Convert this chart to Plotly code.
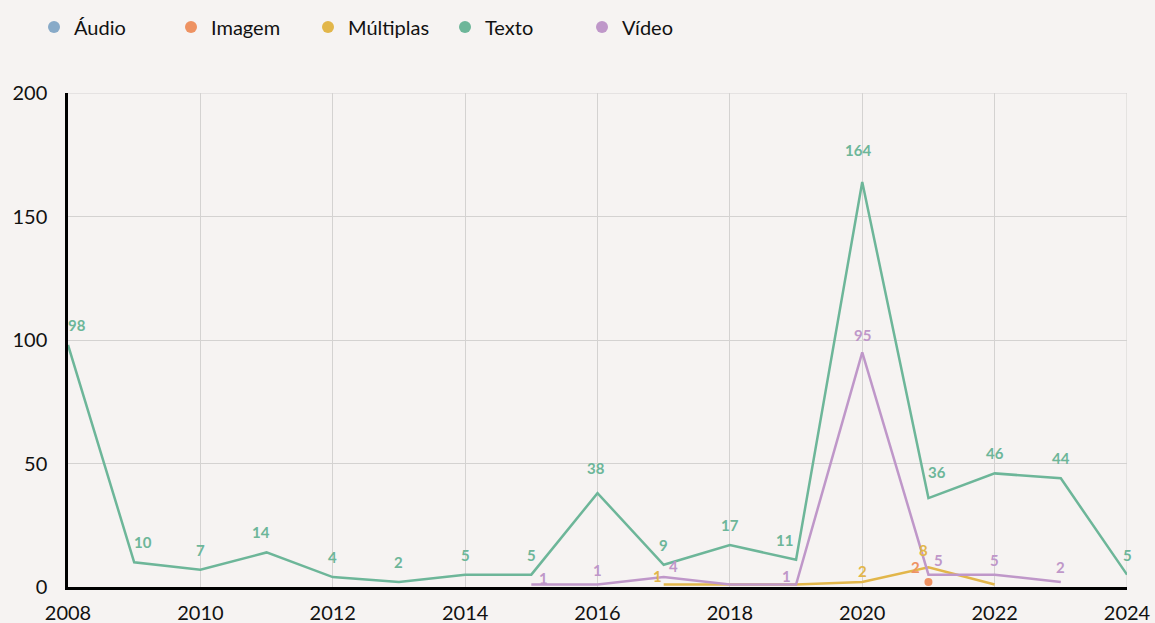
import plotly.graph_objects as go

years = list(range(2008, 2025))

audio = [None] * 17
imagem = [None, None, None, None, None, None, None, None, None, None, None, None, None, 2, None, None, None]
multiplas = [None, None, None, None, None, None, None, None, None, 1, 1, 1, 2, 8, 1, None, None]
texto = [98, 10, 7, 14, 4, 2, 5, 5, 38, 9, 17, 11, 164, 36, 46, 44, 5]
video = [None, None, None, None, None, None, None, 1, 1, 4, 1, 1, 95, 5, 5, 2, None]

# labels that the original hides because they collide
hidden = {("Múltiplas", 2018), ("Múltiplas", 2019), ("Múltiplas", 2022), ("Vídeo", 2018)}

# small nudges (px) for labels that would sit on each other
nudge = {
    ("Texto", 2008): (9, 0), ("Texto", 2009): (9, 0), ("Texto", 2011): (-6, 0),
    ("Texto", 2019): (-12, 0), ("Texto", 2020): (-4, 12), ("Texto", 2021): (9, 6),
    ("Texto", 2016): (-2, 5),
    ("Vídeo", 2015): (12, -8), ("Vídeo", 2017): (10, -4), ("Vídeo", 2019): (-10, -6),
    ("Vídeo", 2020): (0, 2), ("Vídeo", 2021): (10, 0),
    ("Múltiplas", 2017): (-6, -6), ("Múltiplas", 2020): (0, -4), ("Múltiplas", 2021): (-5, 2),
    ("Imagem", 2021): (-13, 0),
}

series = [
    ("Áudio", audio, "#88aac8"),
    ("Imagem", imagem, "#ee9262"),
    ("Múltiplas", multiplas, "#e2b64a"),
    ("Texto", texto, "#6db699"),
    ("Vídeo", video, "#bf97c9"),
]

BG = "#f6f3f2"
FONT = "Lato"
GRID = "#d4d2d1"

fig = go.Figure()
for name, vals, color in series:
    single = sum(v is not None for v in vals) == 1
    fig.add_trace(go.Scatter(
        x=years, y=vals, name=name,
        mode="markers" if single else "lines",
        line=dict(color=color, width=2.5),
        marker=dict(color=color, size=8),
        showlegend=False, legendgroup=name, cliponaxis=False,
    ))
    # circle-only legend entry
    fig.add_trace(go.Scatter(
        x=[None], y=[None], name=name, mode="markers",
        marker=dict(color=color, size=15), legendgroup=name,
    ))
    for yr, v in zip(years, vals):
        if v is None or (name, yr) in hidden:
            continue
        dx, dy = nudge.get((name, yr), (0, 0))
        fig.add_annotation(
            x=yr, y=v, text=str(v), showarrow=False,
            xshift=dx, yshift=(20 if name == "Texto" else 15) + dy,
            font=dict(color=color, size=15, family=FONT, weight="bold"),
        )

fig.update_layout(
    width=1155, height=623,
    paper_bgcolor=BG, plot_bgcolor=BG,
    margin=dict(l=68, r=28, t=93, b=36, autoexpand=False),
    font=dict(family=FONT, size=20, color="#111111"),
    legend=dict(orientation="h", xref="container", yref="container",
                x=34 / 1155, y=1 - 27 / 623, yanchor="middle", xanchor="left",
                font=dict(size=20), entrywidth=92, itemsizing="constant",
                bgcolor="rgba(0,0,0,0)"),
    xaxis=dict(range=[2008, 2024], dtick=2, tick0=2008, showgrid=True,
               gridcolor=GRID, gridwidth=1, showline=True, linecolor="#000000",
               linewidth=2.5, zeroline=False, ticks="", tickfont=dict(size=20),
               ticklabelstandoff=6, automargin=False),
    yaxis=dict(range=[0, 200], dtick=50, showgrid=True, gridcolor=GRID,
               gridwidth=1, showline=True, linecolor="#000000", linewidth=2.5,
               zeroline=False, ticks="", ticklabelstandoff=14, tickfont=dict(size=20),
               automargin=False),
)
fig.add_shape(type="line", xref="x", yref="paper", x0=2024, x1=2024, y0=0, y1=1,
              line=dict(color=GRID, width=1), layer="below")
fig.add_shape(type="line", xref="paper", yref="y", x0=0, x1=1, y0=200, y1=200,
              line=dict(color=GRID, width=1), layer="below")

fig.write_html("out.html", config={"displayModeBar": False},
               post_script="document.body.style.margin='0';"
               "document.body.style.overflow='hidden';")
